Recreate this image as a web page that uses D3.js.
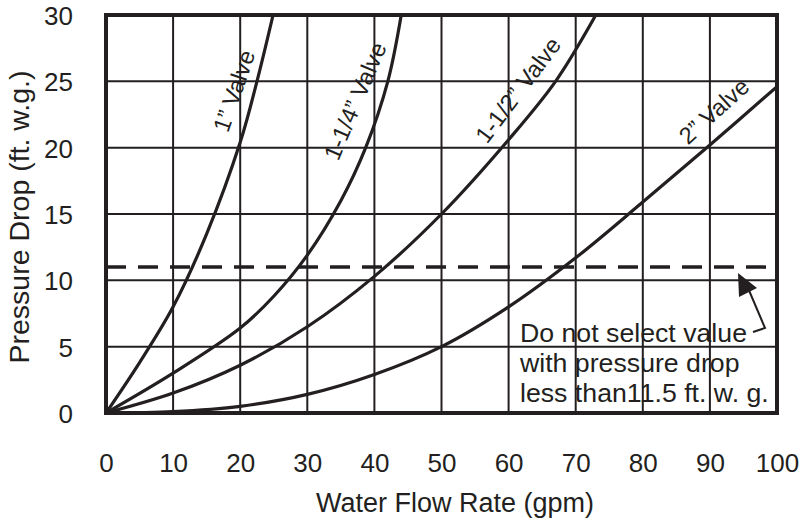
<!DOCTYPE html>
<html>
<head>
<meta charset="utf-8">
<script src="https://cdn.jsdelivr.net/npm/d3@7"></script>
<style>
  html, body { margin: 0; padding: 0; background: #fff; }
  svg { display: block; }
  text { font-family: "Liberation Sans", Arial, Helvetica, sans-serif; fill: #231f20; }
</style>
</head>
<body>
<svg id="chart" width="802" height="522"></svg>
<script>
// ---- Data ----
const xTicks = [0, 10, 20, 30, 40, 50, 60, 70, 80, 90, 100];
const yTicks = [0, 5, 10, 15, 20, 25, 30];

const valve1 = [[0,0],[5,3.8],[10,8.0],[15,13.5],[20,20.4],[22.5,25],[24.9,30]];
const valve114 = [[0,0],[10,3.0],[20,6.4],[25,8.8],[30,11.9],[35,16.0],[38.7,20],[42,25],[44,30]];
const valve112 = [[0,0],[10,1.5],[20,3.6],[30,6.5],[40,10.3],[50,15.0],[60,20.6],[67,25],[73,30]];
const valve2 = [[0,0],[10,0.1],[20,0.5],[30,1.4],[40,2.9],[50,5.0],[60,8.0],[70,11.7],[80,15.9],[90,20.2],[100,24.6]];

const seriesNames = ["1\u201D Valve", "1-1/4\u201D Valve", "1-1/2\u201D Valve", "2\u201D Valve"];
const limitValue = 11;
const noteLines = ["Do not select value", "with pressure drop", "less than11.5 ft. w. g."];
const xTitle = "Water Flow Rate (gpm)";
const yTitle = "Pressure Drop (ft. w.g.)";

// ---- Layout ----
const ink = "#231f20";
const pLeft = 106, pRight = 777, pTop = 15, pBottom = 413;
const svg = d3.select("#chart");

const x = d3.scaleLinear().domain([0, 100]).range([pLeft, pRight]);
const y = d3.scaleLinear().domain([0, 30]).range([pBottom, pTop]);

// grid
const grid = svg.append("g");
grid.selectAll("line.vx").data(xTicks).join("line").attr("class", "vx")
  .attr("x1", d => x(d)).attr("x2", d => x(d))
  .attr("y1", pTop).attr("y2", pBottom)
  .attr("stroke", ink).attr("stroke-width", 2);
grid.selectAll("line.hy").data(yTicks).join("line").attr("class", "hy")
  .attr("y1", d => y(d)).attr("y2", d => y(d))
  .attr("x1", pLeft).attr("x2", pRight)
  .attr("stroke", ink).attr("stroke-width", 2);

// axes labels via d3 axes (lines hidden)
const xAxis = svg.append("g").attr("transform", `translate(0,${pBottom})`)
  .call(d3.axisBottom(x).tickValues(xTicks).tickSize(0).tickPadding(0).tickFormat(d3.format("d")));
xAxis.select(".domain").remove();
xAxis.selectAll("text").attr("y", 59).attr("dy", 0)
  .style("font-size", "26px").style("fill", ink).style("font-family", "Liberation Sans, Arial, sans-serif");

const yAxis = svg.append("g").attr("transform", `translate(${pLeft},0)`)
  .call(d3.axisLeft(y).tickValues(yTicks).tickSize(0).tickPadding(0).tickFormat(d3.format("d")));
yAxis.select(".domain").remove();
yAxis.selectAll("text").attr("x", -33).attr("dy", "0.36em")
  .style("font-size", "26px").style("fill", ink).style("font-family", "Liberation Sans, Arial, sans-serif");

// titles
svg.append("text").attr("x", 455).attr("y", 512).attr("text-anchor", "middle")
  .style("font-size", "27px").text(xTitle);
svg.append("text").attr("transform", "translate(29,217) rotate(-90)").attr("text-anchor", "middle")
  .style("font-size", "28.5px").text(yTitle);

// clip
svg.append("clipPath").attr("id", "plotclip").append("rect")
  .attr("x", pLeft).attr("y", pTop).attr("width", pRight - pLeft).attr("height", pBottom - pTop);

// dashed limit line
svg.append("line")
  .attr("x1", pLeft).attr("x2", pRight).attr("y1", y(limitValue)).attr("y2", y(limitValue))
  .attr("stroke", ink).attr("stroke-width", 3.5).attr("stroke-dasharray", "20,12");

// curves
const line = d3.line().x(d => x(d[0])).y(d => y(d[1])).curve(d3.curveCatmullRom.alpha(0.5));
const allSeries = [valve1, valve114, valve112, valve2];
svg.append("g").attr("clip-path", "url(#plotclip)")
  .selectAll("path").data(allSeries).join("path")
  .attr("d", line).attr("fill", "none").attr("stroke", ink).attr("stroke-width", 3.2)
  .attr("stroke-linecap", "round");

// curve labels
const labelPos = [
  {cx: 234, cy: 91, rot: -71},
  {cx: 355, cy: 101, rot: -67},
  {cx: 518, cy: 90, rot: -53},
  {cx: 714, cy: 111, rot: -42}
];
svg.append("g").selectAll("text").data(seriesNames).join("text")
  .attr("transform", (d, i) => `translate(${labelPos[i].cx},${labelPos[i].cy}) rotate(${labelPos[i].rot})`)
  .attr("text-anchor", "middle").attr("dy", "0.35em")
  .style("font-size", "23.5px").text(d => d);

// frame
svg.append("rect").attr("x", pLeft).attr("y", pTop).attr("width", pRight - pLeft).attr("height", pBottom - pTop)
  .attr("fill", "none").attr("stroke", ink).attr("stroke-width", 4);

// annotation text
const note = svg.append("text").style("font-size", "26.7px");
note.selectAll("tspan").data(noteLines).join("tspan")
  .attr("x", 520).attr("y", (d, i) => 342 + i * 30).text(d => d);

// annotation arrow
svg.append("polyline")
  .attr("points", "753,332 765,328 748,288")
  .attr("fill", "none").attr("stroke", ink).attr("stroke-width", 2);
svg.append("polygon")
  .attr("points", "738,273 739,297 757,288")
  .attr("fill", ink);
</script>
</body>
</html>
